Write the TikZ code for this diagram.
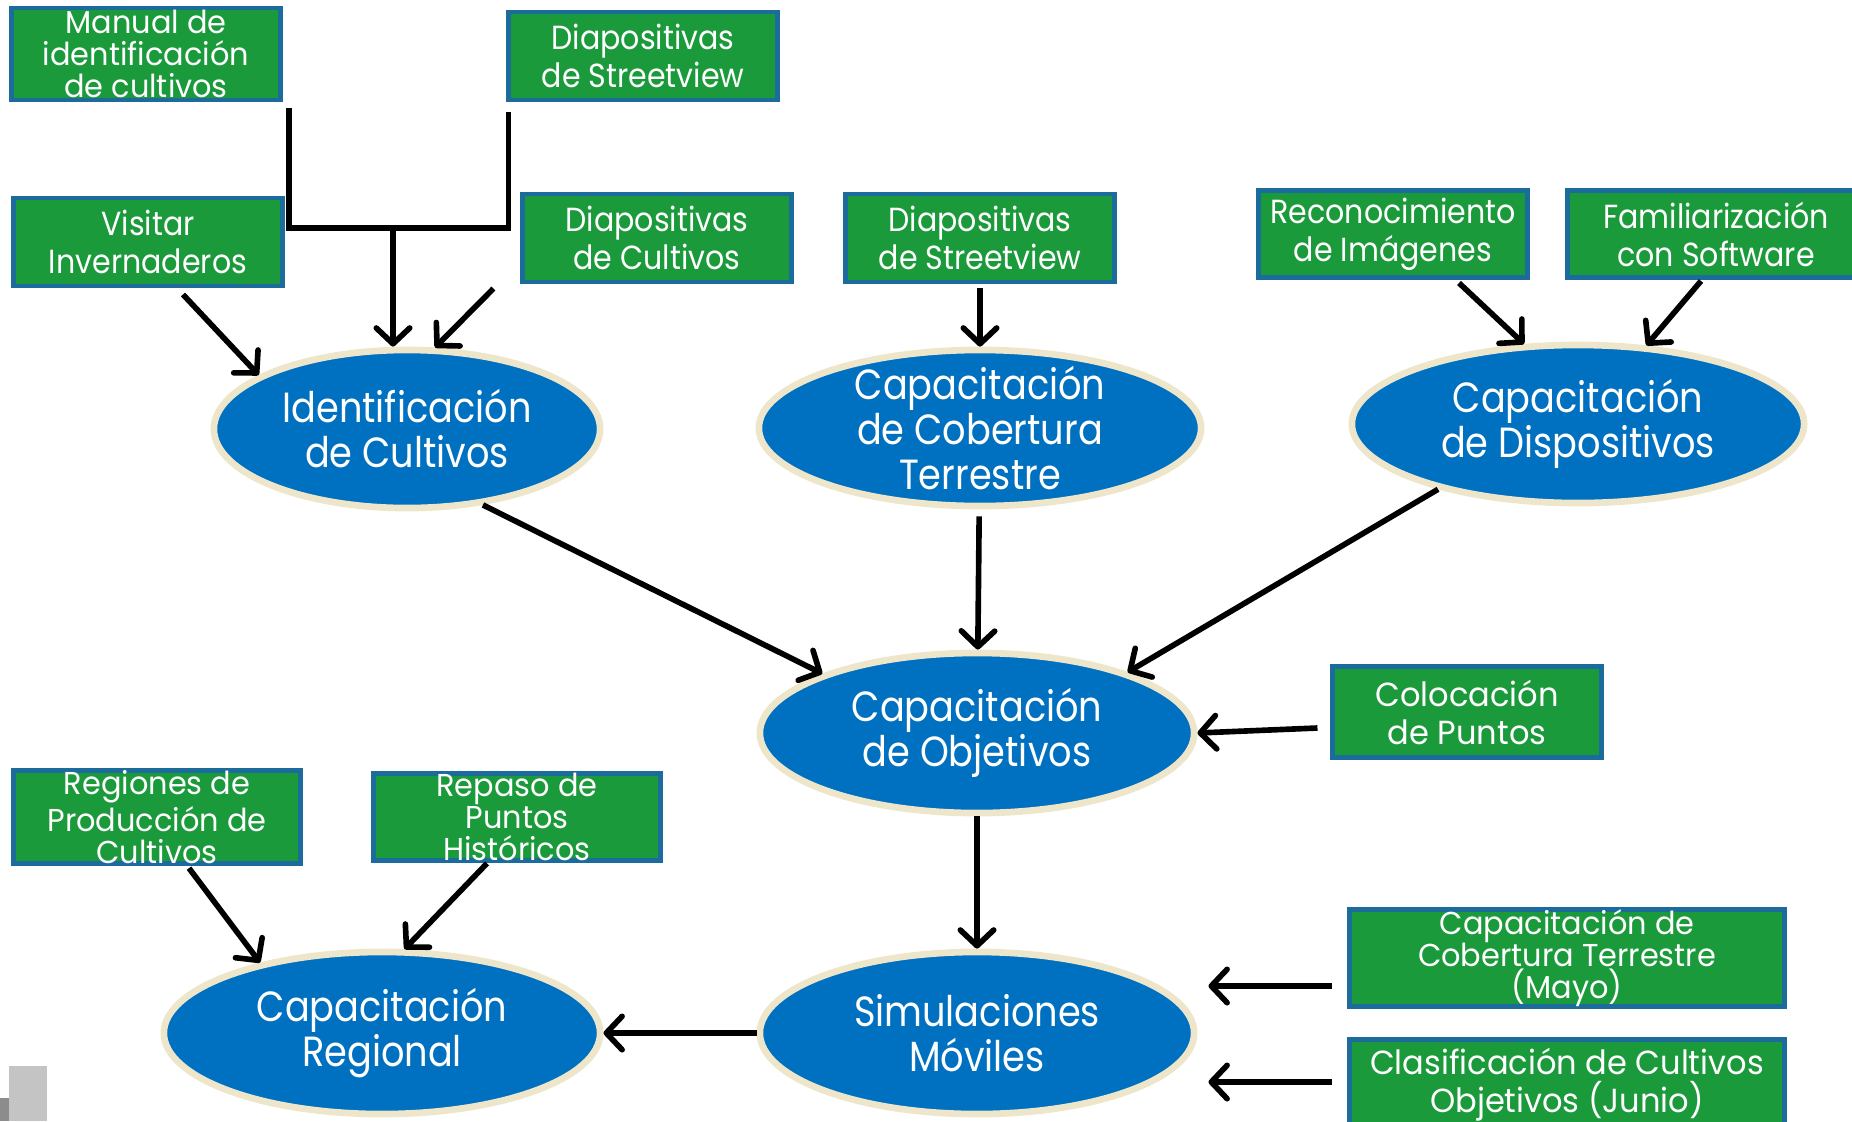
\documentclass[tikz,border=0pt]{standalone}
\usepackage{fontspec}
\setmainfont{Poppins}
\newfontfamily\boxfont{Poppins}[FakeStretch=0.9]
\newfontfamily\widefont{Poppins}[FakeStretch=0.96]
\newfontfamily\ovalfont{Poppins}[FakeStretch=0.87]
\usetikzlibrary{calc, positioning, shapes.geometric, arrows.meta}
\definecolor{BoxGreen}{HTML}{1A9A3A}
\definecolor{BoxBlue}{HTML}{1B6C9C}
\definecolor{OvalBlue}{HTML}{0070C0}
\definecolor{OvalRim}{HTML}{EEE6CB}
\definecolor{CornerGray}{HTML}{C4C4C4}
\definecolor{CornerDark}{HTML}{8C8C8C}

\begin{document}
\begin{tikzpicture}[x=0.01cm, y=-0.01cm,
        box/.style={draw=BoxBlue, line width=1.4pt, fill=BoxGreen, text=white,
                    minimum width=2.68cm, minimum height=0.88cm, inner sep=0pt,
                    align=center, font=\boxfont\fontsize{9.5}{10.8}\selectfont},
        tallbox/.style={box, font=\widefont\fontsize{9}{9.1}\selectfont},
        widebox/.style={box, font=\widefont\fontsize{9.5}{10.8}\selectfont},
        oval/.style={ellipse, draw=OvalRim, line width=1.9pt, fill=OvalBlue, text=white,
                    inner sep=0pt, align=center, font=\ovalfont\fontsize{12}{12.8}\selectfont},
        arr/.style={-{Straight Barb[length=4.5pt, width=9.5pt, round]}, line width=1.6pt},
        line/.style={line width=1.6pt}]

        \clip (0,0) rectangle (1852,1121);
        \fill[white] (0,0) rectangle (1852,1121);

        % Corner marks
        \fill[CornerGray] (9,1066) rectangle (47,1121);
        \fill[CornerDark] (0,1098) rectangle (9,1121);

        % Ovals
        \node[oval, minimum width=3.86cm, minimum height=1.58cm] (ident)    at (407,429)  {Identificación\\de Cultivos};
        \node[oval, inner ysep=-6pt, minimum width=4.42cm, minimum height=1.56cm] (cobert) at (980,428) {Capacitación\\de Cobertura\\Terrestre};
        \node[oval, minimum width=4.52cm, minimum height=1.58cm] (dispos)   at (1578,424) {Capacitación\\de Dispositivos};
        \node[oval, minimum width=4.34cm, minimum height=1.60cm] (objet)    at (977,733)  {Capacitación\\de Objetivos};
        \node[oval, minimum width=4.34cm, minimum height=1.62cm] (simul)    at (977,1033) {Simulaciones\\Móviles};
        \node[oval, minimum width=4.36cm, minimum height=1.62cm] (regional) at (382,1033) {Capacitación\\Regional};

        % Boxes, top
        \node[tallbox, minimum width=2.69cm, minimum height=0.92cm] (manual) at (146,54) {Manual de\\identificación\\de cultivos};
        \node[box] (sv1)      at (643,56)   {Diapositivas\\de Streetview};
        \node[box] (visitar)  at (148,242)  {Visitar\\Invernaderos};
        \node[box] (diapcult) at (657,238)  {Diapositivas\\de Cultivos};
        \node[box] (sv2)      at (980,238)  {Diapositivas\\de Streetview};
        \node[box, minimum height=0.87cm] (recon) at (1393,234) {Reconocimiento\\de Imágenes};
        \node[box, minimum width=2.96cm, minimum height=0.87cm] (famil) at (1716,234) {Familiarización\\con Software};

        % Boxes, middle and bottom
        \node[widebox, minimum height=0.91cm] (coloc) at (1467,712) {Colocación\\de Puntos};
        \node[tallbox, minimum width=2.87cm, minimum height=0.87cm] (regiones) at (157,817) {Regiones de\\Producción de\\Cultivos};
        \node[tallbox, minimum width=2.87cm, minimum height=0.87cm] (repaso)   at (517,817) {Repaso de\\Puntos\\Históricos};
        \node[tallbox, minimum width=4.35cm, minimum height=0.91cm] (mayo)     at (1567,958) {Capacitación de\\Cobertura Terrestre\\(Mayo)};
        \node[widebox, minimum width=4.35cm, minimum height=0.91cm] (clasif)   at (1567,1085) {Clasificación de Cultivos\\Objetivos (Junio)};

        % Bracket into Identificacion
        \coordinate (jn) at (393,228);
        \draw[line] ($(manual.south east)+(6,6)$) |- (jn) -| ($(sv1.south west)+(2,10)$);
        \draw[arr] (jn) -- (jn |- ident.north);

        % Arrows, top row
        \draw[arr] ($(visitar.south)+(35,6)$) -- (ident.160);
        \draw[arr] ($(diapcult.south west)+(-27,4)$) -- (ident.71);
        \draw[arr, shorten <=1pt] (sv2) -- (cobert);
        \draw[arr] ($(recon.south)+(66,3)$) -- (dispos.124);
        \draw[arr] ($(famil.south)+(-15,1)$) -- (dispos.49);

        % Arrows into Objetivos
        \draw[arr] (ident.-45) -- (objet.159);
        \draw[arr, shorten <=2pt] (cobert) -- (objet);
        \draw[arr] (dispos.205) -- (objet.22);
        \draw[arr] ($(coloc.west)+(-13,16)$) -- (objet.east);

        % Arrows, bottom
        \draw[arr] (objet) -- (simul);
        \draw[arr] ($(regiones.south)+(32,2)$) -- (regional.150);
        \draw[arr] ($(repaso.south)+(-30,0)$) -- (regional.75);
        \draw[arr] (simul.west) -- (regional.east);
        \draw[arr] ($(mayo.west)+(-15,28)$) -- ($(simul.east)+(11,-47)$);
        \draw[arr] ($(clasif.west)+(-15,-3)$) -- ($(simul.east)+(11,49)$);
      \end{tikzpicture}
\end{document}
